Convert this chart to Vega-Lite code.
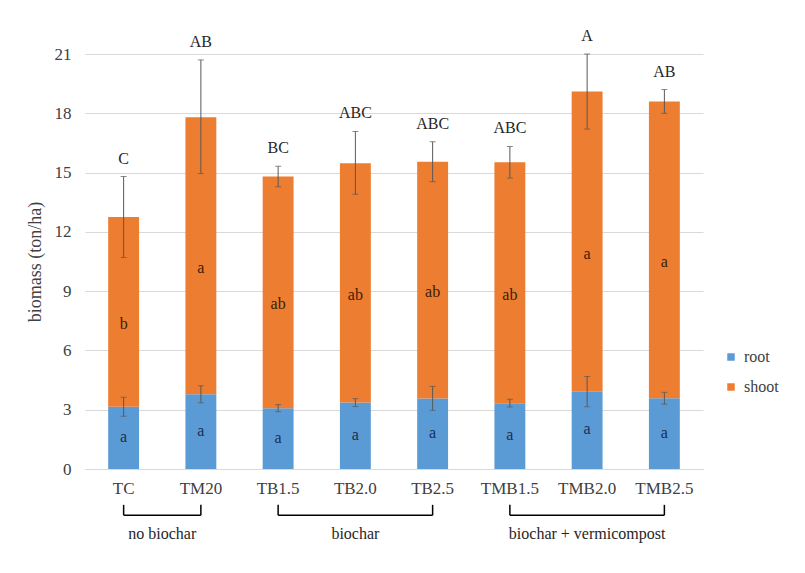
{
  "$schema": "https://vega.github.io/schema/vega-lite/v6.json",
  "background": "white",
  "padding": {"left": 26, "top": 28, "right": 5, "bottom": 5},
  "config": {
    "font": "Liberation Serif",
    "view": {"stroke": null},
    "axis": {"labelColor": "#404040", "titleColor": "#404040", "titleFontWeight": "normal"}
  },
  "datasets": {
    "bars": [
      {"treatment": "TC", "part": "root", "value": 3.15, "lower": 2.67, "upper": 3.63, "letter": "a"},
      {"treatment": "TC", "part": "shoot", "value": 9.6, "lower": 10.7, "upper": 14.8, "letter": "b", "sig": "C"},
      {"treatment": "TM20", "part": "root", "value": 3.78, "lower": 3.35, "upper": 4.21, "letter": "a"},
      {"treatment": "TM20", "part": "shoot", "value": 14.02, "lower": 14.95, "upper": 20.7, "letter": "a", "sig": "AB"},
      {"treatment": "TB1.5", "part": "root", "value": 3.07, "lower": 2.9, "upper": 3.26, "letter": "a"},
      {"treatment": "TB1.5", "part": "shoot", "value": 11.73, "lower": 14.28, "upper": 15.32, "letter": "ab", "sig": "BC"},
      {"treatment": "TB2.0", "part": "root", "value": 3.36, "lower": 3.16, "upper": 3.56, "letter": "a"},
      {"treatment": "TB2.0", "part": "shoot", "value": 12.11, "lower": 13.9, "upper": 17.08, "letter": "ab", "sig": "ABC"},
      {"treatment": "TB2.5", "part": "root", "value": 3.57, "lower": 2.97, "upper": 4.18, "letter": "a"},
      {"treatment": "TB2.5", "part": "shoot", "value": 11.98, "lower": 14.54, "upper": 16.56, "letter": "ab", "sig": "ABC"},
      {"treatment": "TMB1.5", "part": "root", "value": 3.33, "lower": 3.14, "upper": 3.53, "letter": "a"},
      {"treatment": "TMB1.5", "part": "shoot", "value": 12.19, "lower": 14.72, "upper": 16.32, "letter": "ab", "sig": "ABC"},
      {"treatment": "TMB2.0", "part": "root", "value": 3.91, "lower": 3.15, "upper": 4.68, "letter": "a"},
      {"treatment": "TMB2.0", "part": "shoot", "value": 15.19, "lower": 17.2, "upper": 21.0, "letter": "a", "sig": "A"},
      {"treatment": "TMB2.5", "part": "root", "value": 3.58, "lower": 3.28, "upper": 3.88, "letter": "a"},
      {"treatment": "TMB2.5", "part": "shoot", "value": 15.02, "lower": 18.0, "upper": 19.2, "letter": "a", "sig": "AB"}
    ],
    "groups": [
      {"group": "no biochar", "first": 1, "last": 2},
      {"group": "biochar", "first": 3, "last": 5},
      {"group": "biochar + vermicompost", "first": 6, "last": 8}
    ]
  },
  "vconcat": [
    {
      "width": 618,
      "height": 415,
      "data": {"name": "bars"},
      "encoding": {
        "x": {
          "field": "treatment",
          "type": "nominal",
          "sort": ["TC", "TM20", "TB1.5", "TB2.0", "TB2.5", "TMB1.5", "TMB2.0", "TMB2.5"],
          "scale": {"paddingInner": 0.6, "paddingOuter": 0.3},
          "axis": {"title": null, "labelAngle": 0, "labelFont": "Liberation Serif", "labelFontSize": 17, "labelPadding": 11, "ticks": false, "domainColor": "#d9d9d9", "domainWidth": 1}
        }
      },
      "layer": [
        {
          "mark": {"type": "bar"},
          "encoding": {
            "y": {
              "field": "value",
              "type": "quantitative",
              "stack": "zero",
              "scale": {"domain": [0, 21], "nice": false},
              "axis": {"title": "biomass (ton/ha)", "labelFont": "Liberation Serif", "titleFont": "Liberation Serif", "values": [0, 3, 6, 9, 12, 15, 18, 21], "labelFontSize": 17, "titleFontSize": 18, "ticks": false, "domain": false, "gridColor": "#d9d9d9", "labelPadding": 14, "titlePadding": 10}
            },
            "color": {
              "field": "part",
              "type": "nominal",
              "scale": {"domain": ["root", "shoot"], "range": ["#5B9BD5", "#ED7D31"]},
              "legend": {"title": null, "orient": "none", "legendX": 638, "legendY": 295, "labelFont": "Liberation Serif", "labelFontSize": 16, "labelColor": "#404040", "symbolType": "square", "symbolSize": 56, "symbolStrokeWidth": 0, "rowPadding": 14, "labelOffset": 5}
            },
            "order": {"field": "part"}
          }
        },
        {
          "mark": {"type": "rule", "color": "#595959", "strokeWidth": 1},
          "encoding": {
            "y": {"field": "lower", "type": "quantitative"},
            "y2": {"field": "upper"}
          }
        },
        {
          "mark": {"type": "tick", "color": "#595959", "size": 6, "thickness": 1},
          "encoding": {"y": {"field": "lower", "type": "quantitative"}}
        },
        {
          "mark": {"type": "tick", "color": "#595959", "size": 6, "thickness": 1},
          "encoding": {"y": {"field": "upper", "type": "quantitative"}}
        },
        {
          "mark": {"type": "text", "font": "Liberation Serif", "fontSize": 16, "color": "#1c2e4f", "baseline": "middle", "dy": -1},
          "encoding": {
            "y": {"field": "value", "type": "quantitative", "stack": "zero", "bandPosition": 0.5},
            "detail": {"field": "part"},
            "order": {"field": "part"},
            "text": {"condition": {"test": "datum.part === 'root'", "field": "letter"}, "value": ""}
          }
        },
        {
          "mark": {"type": "text", "font": "Liberation Serif", "fontSize": 16, "color": "#3b1d08", "baseline": "middle", "dy": 12},
          "encoding": {
            "y": {"field": "value", "type": "quantitative", "stack": "zero", "bandPosition": 0.5},
            "detail": {"field": "part"},
            "order": {"field": "part"},
            "text": {"condition": {"test": "datum.part === 'shoot'", "field": "letter"}, "value": ""}
          }
        },
        {
          "transform": [{"filter": "datum.part === 'shoot'"}],
          "mark": {"type": "text", "font": "Liberation Serif", "fontSize": 16, "color": "#262626", "baseline": "middle", "dy": -18},
          "encoding": {
            "y": {"field": "upper", "type": "quantitative"},
            "text": {"field": "sig"}
          }
        }
      ]
    },
    {
      "width": 618,
      "height": 45,
      "data": {"name": "groups"},
      "layer": [
        {
          "mark": {"type": "rule", "color": "#000000", "strokeWidth": 1.5},
          "encoding": {
            "x": {"field": "first", "type": "quantitative", "scale": {"domain": [0.5, 8.5], "nice": false, "zero": false}, "axis": null},
            "x2": {"field": "last"},
            "y": {"datum": 0.64, "type": "quantitative", "scale": {"domain": [0, 1], "nice": false}, "axis": null}
          }
        },
        {
          "transform": [{"fold": ["first", "last"], "as": ["end", "pos"]}],
          "mark": {"type": "rule", "color": "#000000", "strokeWidth": 1.5},
          "encoding": {
            "x": {"field": "pos", "type": "quantitative", "axis": null},
            "y": {"datum": 0.87, "type": "quantitative", "axis": null},
            "y2": {"datum": 0.64}
          }
        },
        {
          "transform": [
            {"fold": ["first", "last"], "as": ["end", "pos"]},
            {"aggregate": [{"op": "mean", "field": "pos", "as": "center"}], "groupby": ["group"]}
          ],
          "mark": {"type": "text", "font": "Liberation Serif", "fontSize": 16, "color": "#262626", "baseline": "middle"},
          "encoding": {
            "x": {"field": "center", "type": "quantitative", "axis": null},
            "y": {"datum": 0.22, "type": "quantitative", "axis": null},
            "text": {"field": "group"}
          }
        }
      ]
    }
  ],
  "spacing": 3,
  "resolve": {"scale": {"x": "independent", "y": "independent"}, "legend": {"color": "independent"}}
}
